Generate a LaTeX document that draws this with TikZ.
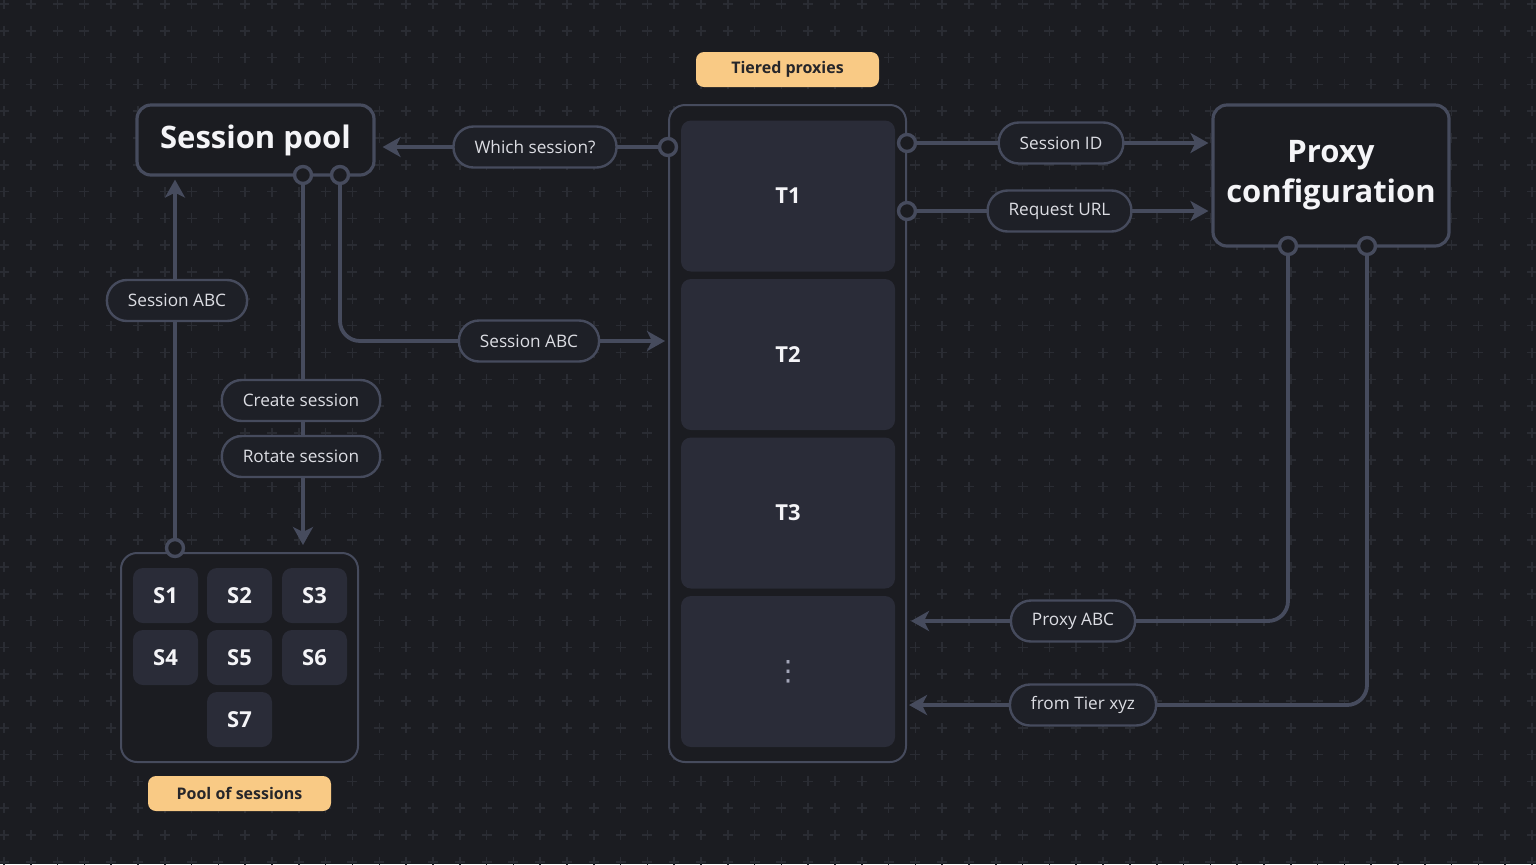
\documentclass[tikz,border=0pt]{standalone}
\usepackage{fontspec}
\setmainfont{Open Sans}
\newfontfamily\symfont{DejaVu Sans}
\usetikzlibrary{arrows.meta,calc}
\definecolor{bg}{HTML}{1B1C21}
\definecolor{gridc}{HTML}{2A2C33}
\definecolor{edge}{HTML}{464B5D}
\definecolor{tilec}{HTML}{2A2C38}
\definecolor{pillbg}{HTML}{1E2027}
\definecolor{txt}{HTML}{DCDDE3}
\definecolor{wtxt}{HTML}{F4F4F7}
\definecolor{orange}{HTML}{F9CA85}
\definecolor{dtxt}{HTML}{26262A}
\definecolor{dots}{HTML}{A3A6B8}
\pgfdeclarelayer{gridlayer}
\pgfdeclarelayer{lines}
\pgfsetlayers{gridlayer,lines,main}
\tikzset{
  bigbox/.style={draw=edge, line width=1.6pt, fill=bg, rounded corners=7pt, inner sep=0pt, text=wtxt, font=\fontsize{15.5}{20}\selectfont\bfseries, align=center},
  frame/.style={draw=edge, line width=1pt, fill=bg, rounded corners=8pt, inner sep=0pt},
  tile/.style={fill=tilec, rounded corners=5pt, inner sep=0pt, text=wtxt, font=\fontsize{11}{13}\selectfont\bfseries},
  pill/.style={draw=edge, line width=1.2pt, fill=pillbg, rounded corners=10pt, minimum height=20.5pt, inner xsep=10.5pt, text=txt, font=\fontsize{8.6}{10}\selectfont},
  tag/.style={fill=orange, rounded corners=4pt, inner sep=0pt, minimum width=91.5pt, minimum height=17.5pt, text=dtxt, font=\fontsize{8}{10}\selectfont\bfseries},
  port/.style={circle, draw=edge, line width=1.7pt, fill=bg, minimum size=8.5pt, inner sep=0pt},
  conn/.style={draw=edge, line width=1.9pt, -{Stealth[length=9pt,width=10pt,inset=2.5pt]}},
}
\begin{document}
\begin{tikzpicture}[x=0.5pt,y=-0.5pt]
\useasboundingbox (0,0) rectangle (1536,864);
\begin{pgfonlayer}{gridlayer}
\fill[bg] (0,0) rectangle (1536,864);
\draw[gridc, line width=0.8pt]
  \foreach \i in {0,...,57}{ \foreach \j in {0,...,32}{
    ({4+26.807*\i},{4+26.807*\j}) +(-5,0) -- +(5,0) +(0,-5) -- +(0,5) } };
\end{pgfonlayer}

% main boxes
\node[bigbox, minimum width=118.5pt, minimum height=35pt] (sp) at (255.5,140) {Session pool};
\node[bigbox, minimum width=118pt, minimum height=70.5pt] (pc) at (1331,175.5) {Proxy\\configuration};
\node[frame, minimum width=118.5pt, minimum height=328.5pt] (tc) at (787.5,433.5) {};
\node[frame, minimum width=118.5pt, minimum height=104.5pt] (pool) at (239.5,657.5) {};

% tiers
\node[tile, minimum width=107pt, minimum height=75.5pt] (t1) at (788,196) {T1};
\node[tile, minimum width=107pt, minimum height=75.5pt] (t2) at (788,354.5) {T2};
\node[tile, minimum width=107pt, minimum height=75.5pt] (t3) at (788,513) {T3};
\node[tile, minimum width=107pt, minimum height=75.5pt, text=dots, font=\symfont\fontsize{14}{14}\selectfont] (t4) at (788,671.5) {⋮};

% sessions
\foreach \n/\x/\y in {1/165.5/595.5, 2/239.5/595.5, 3/314.5/595.5, 4/165.5/657.5, 5/239.5/657.5, 6/314.5/657.5, 7/239.5/719.5}
  \node[tile, minimum width=32.5pt, minimum height=27.5pt] (s\n) at (\x,\y) {S\n};

% tags
\node[tag] (tagt) at (787.5,69.5) {Tiered proxies};
\node[tag] (tagp) at (239.5,793.5) {Pool of sessions};

% ports
\node[port] (p1) at (303,175) {};
\node[port] (p2) at (340,175) {};
\node[port] (pw) at (668,147) {};
\node[port] (pr1) at (907,143) {};
\node[port] (pr2) at (907,211) {};
\node[port] (pc1) at (1288,246) {};
\node[port] (pc2) at (1367,246) {};
\node[port] (ps) at (175,548) {};

% pills
\node[pill] (which) at (535,147) {Which session?};
\node[pill] (sabc1) at (177,300.5) {Session ABC};
\node[pill] (sabc2) at (529,341) {Session ABC};
\node[pill] (create) at (301,400.5) {Create session};
\node[pill] (rotate) at (301,456.5) {Rotate session};
\node[pill] (sid) at (1061,143) {Session ID};
\node[pill] (rurl) at (1059.5,211) {Request URL};
\node[pill] (pabc) at (1073,621) {Proxy ABC};
\node[pill] (tier) at (1083,705) {from Tier xyz};

% connectors
\begin{pgfonlayer}{lines}
\draw[conn, shorten >=3.5pt] (pw) -- (sp.east |- pw);
\draw[conn, shorten >=1.5pt] (ps) -- (sp.south -| ps);
\draw[conn, shorten >=3.5pt] (p1) -- (pool.north -| p1);
\draw[conn, shorten >=1.5pt, rounded corners=10pt] (p2) |- (tc.west |- sabc2);
\draw[conn, shorten >=1.5pt] (pr1) -- (pc.west |- pr1);
\draw[conn, shorten >=1.5pt] (pr2) -- (pc.west |- pr2);
\draw[conn, shorten >=2pt, rounded corners=10pt] (pc1) |- (tc.east |- pabc);
\draw[conn, shorten >=1pt, rounded corners=10pt] (pc2) |- (tc.east |- tier);
\end{pgfonlayer}
\end{tikzpicture}
\end{document}
